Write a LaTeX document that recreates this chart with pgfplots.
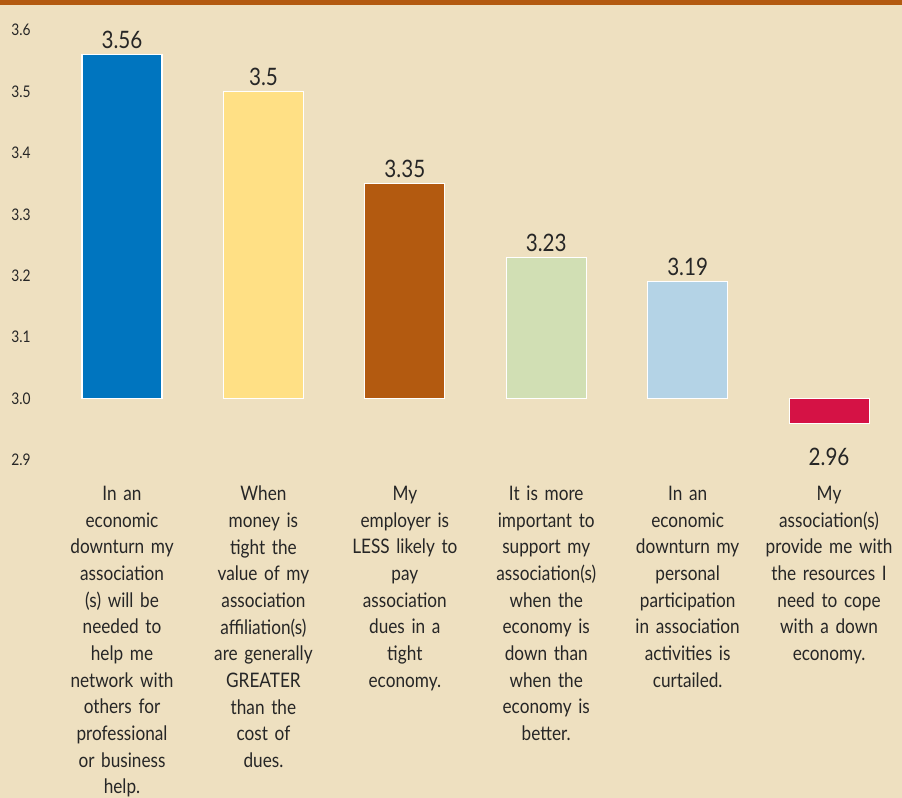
\documentclass[border=0pt]{standalone}
\usepackage{pgfplots}
\pgfplotsset{compat=1.18}
\usepackage{pgfplotstable}
\usepackage{fontspec}
\setmainfont{Lato}[FakeStretch=0.86]
\definecolor{bg}{HTML}{EEE0C0}
\definecolor{topbar}{HTML}{B35A10}
\definecolor{c0}{HTML}{0075BF}
\definecolor{c1}{HTML}{FFE085}
\definecolor{c2}{HTML}{B35A10}
\definecolor{c3}{HTML}{D1DFB4}
\definecolor{c4}{HTML}{B4D3E6}
\definecolor{c5}{HTML}{D51245}
\pgfplotstableread{
x v
0 3.56
1 3.50
2 3.35
3 3.23
4 3.19
5 2.96
}\data
\begin{document}
\begin{tikzpicture}
\fill[bg] (0,0) rectangle (676.5pt,598.5pt);
\fill[topbar] (0,594.75pt) rectangle (676.5pt,598.5pt);
\begin{axis}[
  at={(0pt,253.5pt)}, anchor=south west,
  scale only axis, width=676.5pt, height=322.5pt,
  xmin=-0.863, xmax=5.516, ymin=-0.1, ymax=0.6,
  clip=false,
  /pgf/number format/assume math mode=true,
  axis line style={draw=none}, major tick length=0pt,
  ytick={-0.1,0,0.1,0.2,0.3,0.4,0.5,0.6},
  yticklabels={2.9,3.0,3.1,3.2,3.3,3.4,3.5,3.6},
  yticklabel style={anchor=west, xshift=5pt, font=\fontsize{12}{14}\selectfont, text=black!85},
  xtick={0,1,2,3,4,5},
  xticklabels={
    {In an\\economic\\downturn my\\association\\(s) will be\\needed to\\help me\\network with\\others for\\professional\\or business\\help.},
    {When\\money is\\tight the\\value of my\\association\\affiliation(s)\\are generally\\GREATER\\than the\\cost of\\dues.},
    {My\\employer is\\LESS likely to\\pay\\association\\dues in a\\tight\\economy.},
    {It is more\\important to\\support my\\association(s)\\when the\\economy is\\down than\\when the\\economy is\\better.},
    {In an\\economic\\downturn my\\personal\\participation\\in association\\activities is\\curtailed.},
    {My\\association(s)\\provide me with\\the resources I\\need to cope\\with a down\\economy.}},
  xticklabel style={anchor=north, yshift=-16pt, align=center, text width=100pt,
    font=\fontsize{15}{20}\selectfont, text=black!85},
  ybar, bar width=60pt, bar shift=0pt,
  point meta=explicit,
  nodes near coords={\pgfmathprintnumber{\pgfplotspointmeta}},
  every node near coord/.append style={font=\fontsize{18}{20}\selectfont, text=black!85, inner sep=4pt},
]
\addplot[fill=c0, draw=white, line width=0.8pt, x filter/.expression={x==0 ? x : nan}] table[x=x, y expr=\thisrow{v}-3, meta=v] {\data};
\addplot[fill=c1, draw=white, line width=0.8pt, x filter/.expression={x==1 ? x : nan}] table[x=x, y expr=\thisrow{v}-3, meta=v] {\data};
\addplot[fill=c2, draw=white, line width=0.8pt, x filter/.expression={x==2 ? x : nan}] table[x=x, y expr=\thisrow{v}-3, meta=v] {\data};
\addplot[fill=c3, draw=white, line width=0.8pt, x filter/.expression={x==3 ? x : nan}] table[x=x, y expr=\thisrow{v}-3, meta=v] {\data};
\addplot[fill=c4, draw=white, line width=0.8pt, x filter/.expression={x==4 ? x : nan}] table[x=x, y expr=\thisrow{v}-3, meta=v] {\data};
\addplot[fill=c5, draw=white, line width=0.8pt, x filter/.expression={x==5 ? x : nan},
  every node near coord/.append style={anchor=north, yshift=-14pt}] table[x=x, y expr=\thisrow{v}-3, meta=v] {\data};
\end{axis}
\pgfresetboundingbox
\path (0,0) rectangle (676.5pt,598.5pt);
\end{tikzpicture}
\end{document}
